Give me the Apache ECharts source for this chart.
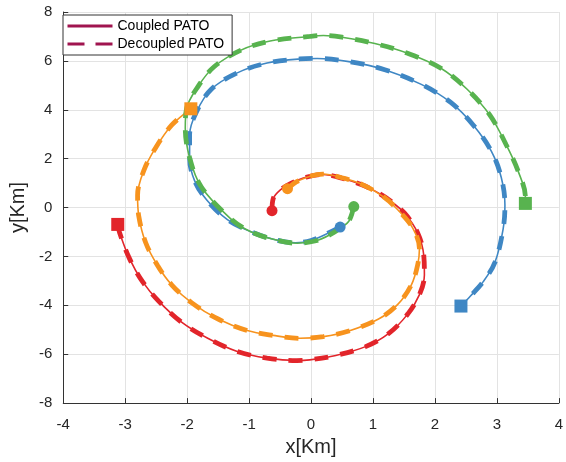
<!DOCTYPE html>
<html>
<head>
<meta charset="utf-8">
<script src="https://cdn.jsdelivr.net/npm/echarts@6/dist/echarts.min.js"></script>
<style>
html,body{margin:0;padding:0;background:#fff;}
#chart{width:566px;height:462px;}
</style>
</head>
<body>
<div id="chart"></div>
<script>
var xTicks = [-4,-3,-2,-1,0,1,2,3,4];
var yTicks = [-8,-6,-4,-2,0,2,4,6,8];
var legendNames = ['Coupled PATO','Decoupled PATO'];
var trajNames = ['Red','Orange','Blue','Green'];

var redPath = [[-0.63,-0.13],[-0.61,0.37],[-0.5,0.71],[-0.34,0.97],[-0.08,1.24],[0.19,1.35],[0.5,1.2],[0.82,0.93],[1.05,0.65],[1.25,0.33],[1.51,-0.23],[1.72,-1.03],[1.82,-1.96],[1.83,-2.76],[1.75,-3.56],[1.56,-4.36],[1.25,-5.16],[0.88,-5.69],[0.4,-6.05],[-0.02,-6.23],[-0.23,-6.26],[-0.71,-6.16],[-1.19,-5.89],[-1.66,-5.36],[-2.09,-4.69],[-2.46,-3.83],[-2.72,-3.03],[-2.93,-2.09],[-3.09,-1.03],[-3.12,-0.69]];
var orangePath = [[-0.38,0.77],[-0.2,1.1],[0.19,1.37],[0.5,1.22],[0.82,0.95],[1.17,0.44],[1.4,-0.09],[1.64,-0.83],[1.75,-1.69],[1.72,-2.36],[1.62,-3.16],[1.4,-3.96],[1.09,-4.56],[0.61,-5.05],[0.2,-5.28],[-0.18,-5.35],[-0.61,-5.23],[-1.03,-5.03],[-1.5,-4.56],[-1.93,-3.89],[-2.25,-3.16],[-2.48,-2.36],[-2.67,-1.43],[-2.78,-0.36],[-2.8,0.5],[-2.7,1.51],[-2.51,2.44],[-2.25,3.37],[-1.94,4.04]];
var bluePath = [[0.47,-0.8],[0.24,-1.09],[0.0,-1.35],[-0.25,-1.44],[-0.61,-1.3],[-0.98,-0.98],[-1.35,-0.49],[-1.68,0.3],[-1.88,1.1],[-1.96,2.04],[-1.96,2.97],[-1.85,3.91],[-1.61,4.84],[-1.19,5.51],[-0.71,5.91],[-0.18,6.08],[0.1,6.1],[0.61,5.97],[1.19,5.64],[1.78,5.04],[2.25,4.31],[2.62,3.37],[2.91,2.31],[3.07,1.24],[3.13,0.1],[3.1,-0.89],[2.97,-2.23],[2.78,-3.03],[2.57,-3.63],[2.42,-4.03]];
var greenPath = [[0.69,0.04],[0.61,-0.56],[0.47,-0.85],[0.3,-1.12],[0.08,-1.36],[-0.22,-1.46],[-0.61,-1.3],[-0.98,-0.98],[-1.3,-0.45],[-1.77,0.84],[-1.96,2.04],[-2.03,3.24],[-2.01,4.04],[-1.82,4.97],[-1.56,5.77],[-1.13,6.44],[-0.66,6.81],[-0.02,7.0],[0.2,7.04],[0.5,6.97],[1.03,6.71],[1.56,6.31],[2.09,5.71],[2.52,4.84],[2.89,3.77],[3.15,2.57],[3.34,1.51],[3.46,0.44],[3.46,0.17]];

var paths = [redPath, orangePath, bluePath, greenPath];
var colors = ['#E2252B','#F7931E','#3F87C4','#58B34F'];
var legendColor = '#A0144F';
var font = 'Liberation Sans, Arial, Helvetica, sans-serif';

var series = [];
paths.forEach(function(p, i){
  series.push({
    name: trajNames[i] + ' decoupled', type:'line', data:p, smooth:0.35,
    showSymbol:false, symbol:'none', z:2+i,
    lineStyle:{color:colors[i], width:4.8, type:[14,12], cap:'butt'},
    silent:true, animation:false
  });
  series.push({
    name: trajNames[i] + ' coupled', type:'line', data:p, smooth:0.35,
    showSymbol:false, symbol:'none', z:2+i,
    lineStyle:{color:colors[i], width:1.6},
    silent:true, animation:false
  });
});
paths.forEach(function(p, i){
  series.push({
    type:'scatter', data:[p[0]], symbol:'circle', symbolSize:11, z:10,
    itemStyle:{color:colors[i], opacity:1}, silent:true, animation:false
  });
  series.push({
    type:'scatter', data:[p[p.length-1]], symbol:'rect', symbolSize:13, z:10,
    itemStyle:{color:colors[i], opacity:1}, silent:true, animation:false
  });
});
series.push({name:legendNames[0], type:'line', data:[[-10,-10]], symbol:'none',
  lineStyle:{color:legendColor, width:3}, itemStyle:{color:legendColor}});
series.push({name:legendNames[1], type:'line', data:[[-10,-10]], symbol:'none',
  lineStyle:{color:legendColor, width:3, type:[17,11]}, itemStyle:{color:legendColor}});

var chart = echarts.init(document.getElementById('chart'), null, {renderer:'canvas'});
chart.setOption({
  animation:false,
  backgroundColor:'#fff',
  grid:{left:59.5, right:4, top:12, bottom:52, containLabel:false},
  legend:{
    show:true,
    data:[
      {name:legendNames[0], itemStyle:{opacity:0}, lineStyle:{width:3, color:legendColor, type:'solid'}},
      {name:legendNames[1], itemStyle:{opacity:0}, lineStyle:{width:3, color:legendColor, type:[17,11]}}
    ],
    orient:'vertical', left:63, top:15, z:20,
    padding:[4,8,4,3], itemGap:4, itemWidth:45, itemHeight:14,
    backgroundColor:'#fff', borderColor:'#333', borderWidth:1,
    textStyle:{fontFamily:font, fontSize:14, color:'#000'},
    selectedMode:false
  },
  xAxis:{
    type:'value', min:-4, max:4, interval:1,
    name:'x[Km]', nameLocation:'middle', nameGap:33,
    nameTextStyle:{fontFamily:font, fontSize:20, color:'#262626'},
    axisLine:{show:true, onZero:false, lineStyle:{color:'#333', width:1}},
    axisTick:{show:true, inside:true, length:5, lineStyle:{color:'#333'}},
    axisLabel:{fontFamily:font, fontSize:15, color:'#262626', margin:14,
      formatter:function(v){ return xTicks.indexOf(v) >= 0 ? String(v) : ''; }},
    splitLine:{show:true, lineStyle:{color:'#e3e3e3', width:1}}
  },
  yAxis:{
    type:'value', min:-8, max:8, interval:2,
    name:'y[Km]', nameLocation:'middle', nameGap:28,
    nameTextStyle:{fontFamily:font, fontSize:20, color:'#262626'},
    axisLine:{show:true, onZero:false, lineStyle:{color:'#333', width:1}},
    axisTick:{show:true, inside:true, length:5, lineStyle:{color:'#333'}},
    axisLabel:{fontFamily:font, fontSize:15, color:'#262626', margin:11,
      formatter:function(v){ return yTicks.indexOf(v) >= 0 ? String(v) : ''; }},
    splitLine:{show:true, lineStyle:{color:'#e3e3e3', width:1}}
  },
  series:series
});
</script>
</body>
</html>
